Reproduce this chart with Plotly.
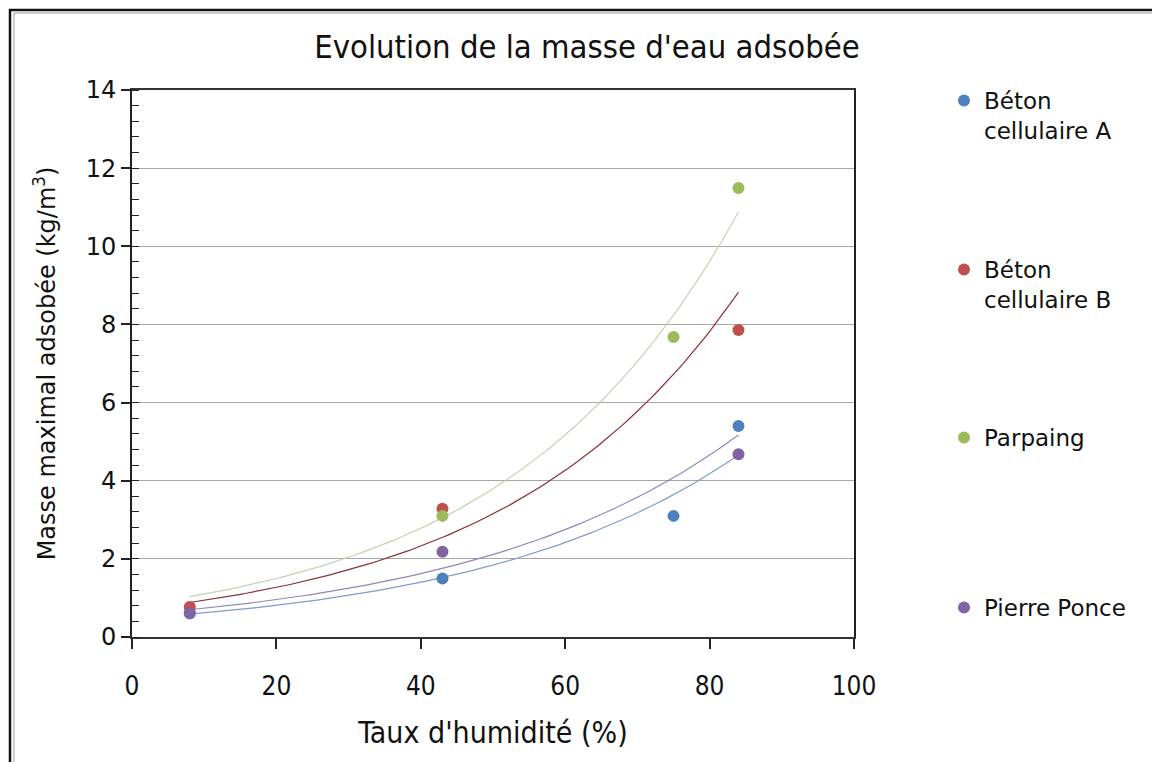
import numpy as np
import plotly.graph_objects as go

# ---- data ----
series_names = ["Béton<br>cellulaire A", "Béton<br>cellulaire B", "Parpaing", "Pierre Ponce"]
x_beton_a = [8, 43, 75, 84]
y_beton_a = [0.60, 1.50, 3.10, 5.40]
x_beton_b = [8, 43, 84]
y_beton_b = [0.77, 3.28, 7.86]
x_parpaing = [43, 75, 84]
y_parpaing = [3.10, 7.68, 11.49]
x_ponce = [8, 43, 84]
y_ponce = [0.62, 2.18, 4.68]

marker_colors = ["#4F81BD", "#C0504D", "#9BBB59", "#8064A2"]
trend_colors = ["#7E9CD0", "#8B2E35", "#C2D2B4", "#8C88B8"]

title_text = "Evolution de la masse d'eau adsobée"
x_title = "Taux d'humidité (%)"
y_title = "Masse maximal adsobée (kg/m<sup>3</sup>)"

xs = [x_beton_a, x_beton_b, x_parpaing, x_ponce]
ys = [y_beton_a, y_beton_b, y_parpaing, y_ponce]

x_all_min = min(min(v) for v in xs)
x_all_max = max(max(v) for v in xs)

# page layout (browser body adds an 8px offset)
OFF = 8
W, H = 1152, 754
PL, PR, PT, PB = 132, 854, 90, 637          # plot area in page pixels
pw, ph = PR - PL, PB - PT
L, T = PL - OFF, PT - OFF
R, B = W - L - pw, H - T - ph

def px(xp):
    return (xp - PL) / pw

def py(yp):
    return (PB - yp) / ph

legend_keys = ["legend", "legend2", "legend3", "legend4"]
legend_tops = [79, 248, 416, 586]

fig = go.Figure()

# exponential trendlines (fit in log space, as the spreadsheet does)
for i in range(4):
    b, ln_a = np.polyfit(np.array(xs[i], float), np.log(np.array(ys[i], float)), 1)
    xt = np.linspace(x_all_min, x_all_max, 120)
    yt = np.exp(ln_a) * np.exp(b * xt)
    fig.add_trace(go.Scatter(x=xt, y=yt, mode="lines",
                             line=dict(color=trend_colors[i], width=1.2),
                             showlegend=False, hoverinfo="skip"))

for i in range(4):
    fig.add_trace(go.Scatter(x=xs[i], y=ys[i], mode="markers", name=series_names[i],
                             legend=legend_keys[i], showlegend=True,
                             marker=dict(color=marker_colors[i], size=12)))

legend_font = dict(family="DejaVu Sans", size=23, color="#111111")
legend_layout = {}
for i, key in enumerate(legend_keys):
    legend_layout[key] = dict(x=px(944), y=py(legend_tops[i]), xanchor="left", yanchor="top",
                              valign="top", font=legend_font, bgcolor="rgba(0,0,0,0)")

fig.update_layout(
    width=W, height=H,
    margin=dict(l=L, r=R, t=T, b=B),
    paper_bgcolor="white", plot_bgcolor="white",
    title=dict(text=title_text, x=(587 - OFF) / W, xanchor="center",
               y=1 - (47 - OFF) / H, yanchor="middle",
               font=dict(family="DejaVu Sans Condensed", size=32.5, color="#111111")),
    xaxis=dict(range=[0, 100], dtick=20, tick0=0, showgrid=False, zeroline=False,
               ticks="outside", ticklen=10, tickcolor="#222222", tickwidth=1.5,
               ticklabelstandoff=15,
               showline=True, linecolor="#333333", linewidth=1.5, mirror=True,
               tickfont=dict(family="DejaVu Sans Condensed", size=26, color="#111111"),
               title=dict(text=x_title, standoff=22,
                          font=dict(family="DejaVu Sans Condensed", size=30, color="#111111"))),
    yaxis=dict(range=[0, 14], dtick=2, tick0=0, showgrid=True, gridcolor="#a8a8a8", gridwidth=1,
               zeroline=False,
               ticks="outside", ticklen=9, tickcolor="#222222", tickwidth=1.5,
               minor=dict(dtick=0.4, ticks="inside", ticklen=7, tickcolor="#222222", tickwidth=1.2, showgrid=False),
               showline=True, linecolor="#222222", linewidth=1.8, mirror=True,
               tickfont=dict(family="DejaVu Sans", size=24, color="#111111"),
               title=dict(text=y_title, standoff=23,
                          font=dict(family="DejaVu Sans", size=24, color="#111111"))),
    showlegend=True,
    **legend_layout,
)

# chart-area frame
fig.add_shape(type="rect", xref="paper", yref="paper",
              x0=px(10), x1=px(1157), y0=py(790), y1=py(10),
              line=dict(color="#111111", width=2.5), fillcolor="rgba(0,0,0,0)", layer="below")
fig.add_shape(type="rect", xref="paper", yref="paper",
              x0=px(14), x1=px(1153), y0=py(786), y1=py(13),
              line=dict(color="#9a9a9a", width=1), fillcolor="rgba(0,0,0,0)", layer="below")

fig.write_html("out.html")
